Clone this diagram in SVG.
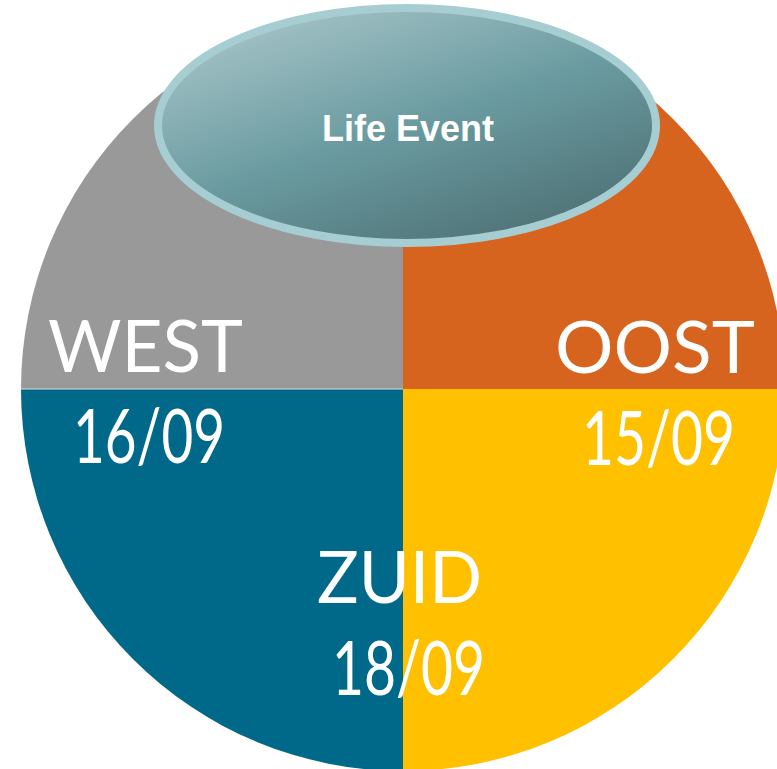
<svg xmlns="http://www.w3.org/2000/svg" width="777" height="769" viewBox="0 0 777 769">
<style>
.big{font-family:Lato,"Open Sans","Liberation Sans",sans-serif;font-size:72px;fill:#ffffff;}
.num{font-family:Lato,"Open Sans","Liberation Sans",sans-serif;font-size:76px;fill:#ffffff;}
.lbl{font-family:"Liberation Sans",Arial,sans-serif;font-weight:bold;font-size:36px;fill:#ffffff;}
</style>
<defs>
<clipPath id="circ"><circle cx="403" cy="389" r="382"/></clipPath>
<linearGradient id="eg" x1="0.15" y1="0" x2="0.85" y2="1">
<stop offset="0" stop-color="#a9c6ca"/>
<stop offset="0.5" stop-color="#6a9ba0"/>
<stop offset="1" stop-color="#4b6d71"/>
</linearGradient>
</defs>
<rect width="777" height="769" fill="#ffffff"/>
<g id="quadrants" clip-path="url(#circ)">
<rect id="west" x="0" y="0" width="403" height="389" fill="#999999"/>
<rect id="oost" x="403" y="0" width="374" height="389" fill="#d6641f"/>
<rect id="zuid-left" x="0" y="389" width="403" height="380" fill="#006888"/>
<rect id="zuid-right" x="403" y="389" width="374" height="380" fill="#ffc000"/>
<line x1="0" y1="389" x2="403" y2="389" stroke="#d9dee0" stroke-width="1.2"/>
</g>
<g id="labels">
<text class="big" x="48" y="372" textLength="195" lengthAdjust="spacingAndGlyphs">WEST</text>
<text class="num" x="73" y="463" textLength="152" lengthAdjust="spacingAndGlyphs">16/09</text>
<text class="big" x="555" y="373" textLength="200" lengthAdjust="spacingAndGlyphs">OOST</text>
<text class="num" x="582" y="465" textLength="153" lengthAdjust="spacingAndGlyphs">15/09</text>
<text class="big" x="317" y="603" textLength="165" lengthAdjust="spacingAndGlyphs">ZUID</text>
<text class="num" x="332" y="695" textLength="153" lengthAdjust="spacingAndGlyphs">18/09</text>
</g>
<g id="life-event">
<ellipse cx="407" cy="125.5" rx="249" ry="117.5" fill="url(#eg)" stroke="#a6cdd2" stroke-width="8"/>
<text class="lbl" x="408" y="141" text-anchor="middle">Life Event</text>
</g>
</svg>
